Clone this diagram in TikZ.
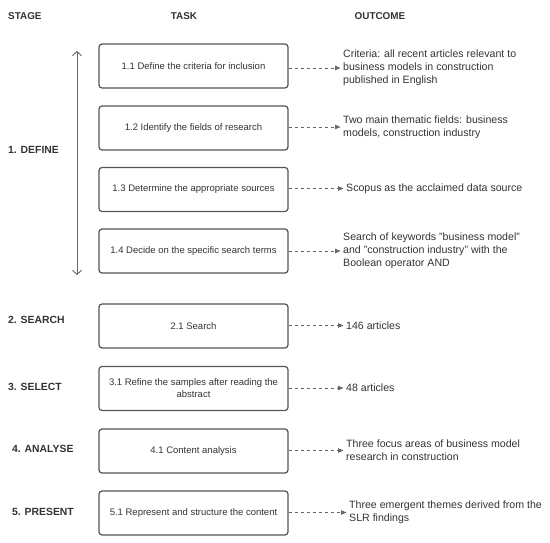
\documentclass[tikz,border=0pt]{standalone}
\usepackage{fontspec}
\setmainfont{Liberation Sans}
\usetikzlibrary{arrows.meta}
\definecolor{txt}{HTML}{333333}
\definecolor{edge}{HTML}{555555}
\definecolor{lnk}{HTML}{666666}
\begin{document}
\begin{tikzpicture}[x=1pt,y=-1pt,
  taskbox/.style={draw=edge,line width=1.2pt,rounded corners=3pt,minimum width=189pt,minimum height=44pt,inner sep=2pt,align=center,font=\fontsize{9.5}{12}\selectfont,text=txt},
  outc/.style={anchor=west,inner sep=2.5pt,align=left,font=\fontsize{10.6}{13}\selectfont,text=txt},
  hdr/.style={font=\bfseries\fontsize{9.9}{11}\selectfont,text=txt},
  stg/.style={anchor=west,inner sep=0pt,font=\bfseries\fontsize{10.4}{12}\selectfont,text=txt},
  dlink/.style={draw=lnk,line width=0.8pt,dash pattern=on 3.5pt off 2.5pt,-{Triangle[length=5.5pt,width=4.5pt]}},
]
\useasboundingbox (0,0) rectangle (550,543);
% headers
\node[hdr,anchor=west,inner sep=0pt] (hs) at (8,16) {STAGE};
\node[hdr] (ht) at (184,16) {TASK};
\node[hdr] (ho) at (380,16) {OUTCOME};
% stages
\node[stg] (s1) at (8,150) {1. DEFINE};
\node[stg] (s2) at (8,320) {2. SEARCH};
\node[stg] (s3) at (8,387) {3. SELECT};
\node[stg] (s4) at (12,449) {4. ANALYSE};
\node[stg] (s5) at (12,512) {5. PRESENT};
% task boxes
\node[taskbox] (b11) at (193.5,66) {1.1 Define the criteria for inclusion};
\node[taskbox] (b12) at (193.5,128) {1.2 Identify the fields of research};
\node[taskbox] (b13) at (193.5,189.5) {1.3 Determine the appropriate sources};
\node[taskbox] (b14) at (193.5,251) {1.4 Decide on the specific search terms};
\node[taskbox] (b21) at (193.5,326) {2.1 Search};
\node[taskbox] (b31) at (193.5,388.5) {3.1 Refine the samples after reading the\\abstract};
\node[taskbox] (b41) at (193.5,451) {4.1 Content analysis};
\node[taskbox] (b51) at (193.5,513) {5.1 Represent and structure the content};
% outcomes
\node[outc] (o11) at (340.5,68) {Criteria: all recent articles relevant to\\business models in construction\\published in English};
\node[outc] (o12) at (340.5,127) {Two main thematic fields: business\\models, construction industry};
\node[outc] (o13) at (343.5,188.5) {Scopus as the acclaimed data source};
\node[outc] (o14) at (340.5,251) {Search of keywords "business model"\\and "construction industry" with the\\Boolean operator AND};
\node[outc] (o21) at (343.5,325.5) {146 articles};
\node[outc] (o31) at (343.5,388) {48 articles};
\node[outc] (o41) at (343.5,450.5) {Three focus areas of business model\\research in construction};
\node[outc] (o51) at (346.5,512.5) {Three emergent themes derived from the\\SLR findings};
% links
\foreach \b/\o in {b11/o11,b12/o12,b13/o13,b14/o14,b21/o21,b31/o31,b41/o41,b51/o51}
  \draw[dlink] (\b.east |- \o.west) -- (\o.west);
% vertical double arrow
\coordinate (atop) at (77,51);
\coordinate (abot) at (77,275);
\draw[draw=lnk,line width=0.9pt,{Straight Barb[length=4pt,width=9pt]}-{Straight Barb[length=4pt,width=9pt]}] (atop) -- (abot);
\end{tikzpicture}
\end{document}
